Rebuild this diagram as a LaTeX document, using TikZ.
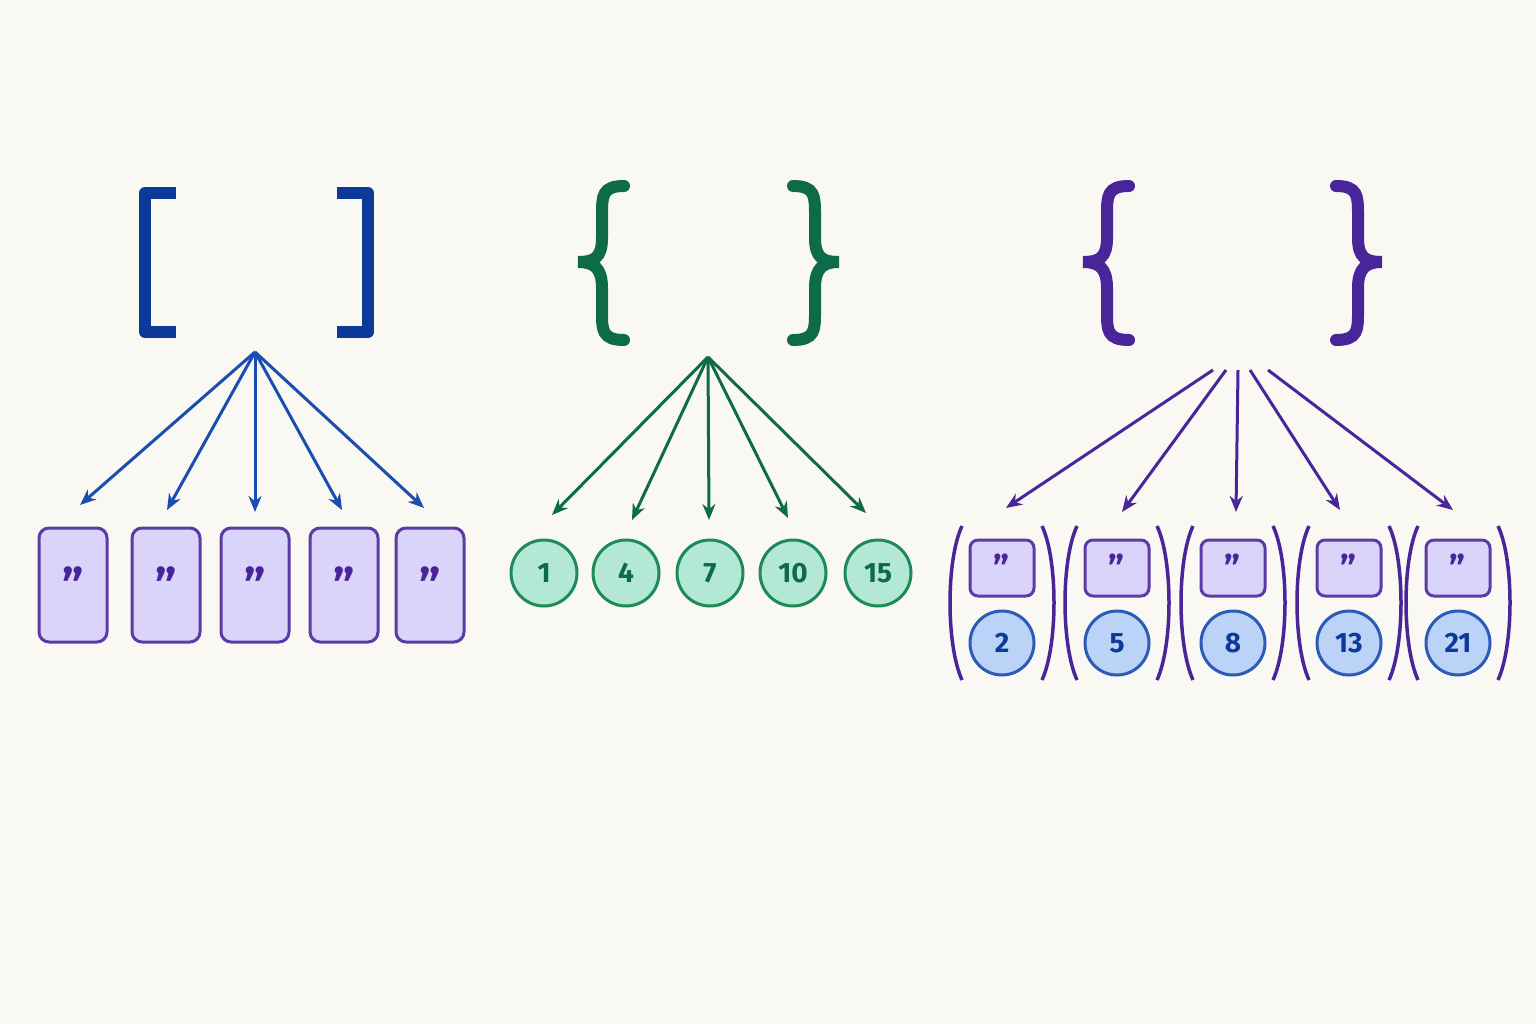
\documentclass[tikz,border=0pt]{standalone}
\usepackage{fontspec}
\setmainfont{Fira Sans}
\usetikzlibrary{arrows.meta}
\definecolor{bgc}{HTML}{FAF8F3}
\definecolor{dblue}{HTML}{0D3A99}
\definecolor{ablue}{HTML}{1A4DB0}
\definecolor{dgreen}{HTML}{0E6B4A}
\definecolor{mgreen}{HTML}{1E8A5A}
\definecolor{lgreen}{HTML}{B3E8D6}
\definecolor{dpurp}{HTML}{4A2599}
\definecolor{mpurp}{HTML}{5B3BA8}
\definecolor{lpurp}{HTML}{DAD4FA}
\definecolor{lblue}{HTML}{BBD3F7}
\definecolor{nblue}{HTML}{2A5BB8}
\tikzset{every picture/.style={line width=0.75pt},
  card/.style={draw=mpurp, fill=lpurp, line width=3pt, rounded corners=10pt, minimum width=68pt, minimum height=114pt, inner sep=0pt, font=\fontsize{48}{50}\selectfont\bfseries, text=dpurp},
  tag/.style={draw=mpurp, fill=lpurp, line width=3pt, rounded corners=8pt, minimum width=64pt, minimum height=56pt, inner sep=0pt, font=\fontsize{36}{38}\selectfont\bfseries, text=dpurp},
  gnum/.style={circle, draw=mgreen, fill=lgreen, line width=3pt, minimum size=66pt, inner sep=0pt, font=\fontsize{28}{30}\selectfont\bfseries, text=dgreen},
  bnum/.style={circle, draw=nblue, fill=lblue, line width=3pt, minimum size=64pt, inner sep=0pt, font=\fontsize{28}{30}\selectfont\bfseries, text=dblue},
  fan/.style={-{Stealth[length=16pt,width=13pt]}, line width=3pt}}
\begin{document}
\begin{tikzpicture}[x=1pt,y=1pt,yscale=-1]
	\fill[bgc] (0,0) rectangle (1536,1024);
	\useasboundingbox (0,0) rectangle (1536,1024);

	% square brackets
	\draw [dblue, line width=12pt, line join=round] (176,193) -- (145,193) -- (145,332) -- (176,332);
	\draw [dblue, line width=12pt, line join=round] (337,193) -- (368,193) -- (368,332) -- (337,332);
	% curly braces
	\foreach \xl/\xr/\c in {600/817/dgreen, 1105/1360/dpurp}{
	\draw [\c, line width=12pt, line cap=round] (\xl+24,186) .. controls (\xl+2,186) and (\xl+2,196) .. (\xl+2,215) -- (\xl+2,238) .. controls (\xl+2,258) and (\xl-6,262) .. (\xl-22,262) .. controls (\xl-6,262) and (\xl+2,268) .. (\xl+2,288) -- (\xl+2,312) .. controls (\xl+2,330) and (\xl+2,340) .. (\xl+24,340);
	\draw [\c, line width=12pt, line cap=round] (\xr-24,186) .. controls (\xr-2,186) and (\xr-2,196) .. (\xr-2,215) -- (\xr-2,238) .. controls (\xr-2,258) and (\xr+6,262) .. (\xr+22,262) .. controls (\xr+6,262) and (\xr-2,268) .. (\xr-2,288) -- (\xr-2,312) .. controls (\xr-2,330) and (\xr-2,340) .. (\xr-24,340);
	}

	% list of strings
	\coordinate (hubA) at (255,352);
	\foreach \n/\x/\ex/\ey in {1/73/80/505, 2/166/167/510, 3/255/255/512, 4/344/342/510, 5/430/424/508}{
	\node [card] (s\n) at (\x,585) {”};
	\coordinate (sa\n) at (\ex,\ey);
	\draw [fan, ablue] (hubA) -- (sa\n);
	}

	% set of numbers
	\coordinate (hubB) at (708,357);
	\foreach \n/\x/\t/\ex/\ey in {1/544/1/552/515, 2/626/4/632/520, 3/710/7/709/520, 4/793/10/788/518, 5/878/15/866/513}{
	\node [gnum] (g\n) at (\x,573) {\t};
	\coordinate (ga\n) at (\ex,\ey);
	\draw [fan, dgreen] (hubB) -- (ga\n);
	}

	% set of pairs
	\foreach \n/\x/\t/\sx/\ex/\ey in {1/1002/2/1213/1006/508, 2/1117/5/1226/1122/512, 3/1233/8/1238/1236/512, 4/1349/13/1250/1340/510, 5/1458/21/1268/1453/510}{
	\node [tag] (p\n) at (\x,568) {”};
	\node [bnum] (q\n) at (\x,643) {\t};
	\draw [dpurp, line width=3.5pt] (\x-40,526) .. controls (\x-56,560) and (\x-56,645) .. (\x-40,680);
	\draw [dpurp, line width=3.5pt] (\x+40,526) .. controls (\x+56,560) and (\x+56,645) .. (\x+40,680);
	\coordinate (ps\n) at (\sx,370);
	\coordinate (pa\n) at (\ex,\ey);
	\draw [fan, dpurp] (ps\n) -- (pa\n);
	}
\end{tikzpicture}
\end{document}
